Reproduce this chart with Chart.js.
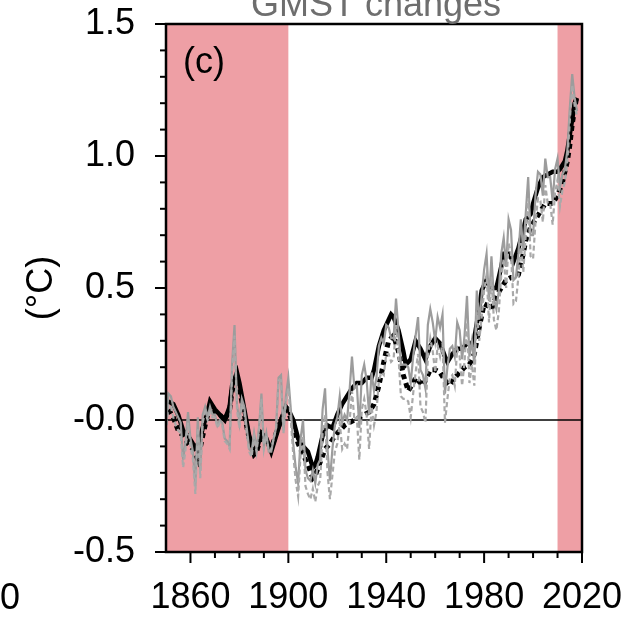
<!DOCTYPE html>
<html>
<head>
<meta charset="utf-8">
<script src="https://cdn.jsdelivr.net/npm/chart.js@4/dist/chart.umd.min.js"></script>
<style>
  html, body { margin: 0; padding: 0; background: #fff; }
  #wrap { width: 630px; height: 619px; position: relative; }
</style>
</head>
<body>
<div id="wrap"><canvas id="gmst" width="630" height="619"></canvas></div>
<script>
// annual values (gray lines), one per year from 1850
const firstYear = 1850
const annualSolid = [
  -0.02, 0.10, 0.09, 0.05, 0.03, 0.01, -0.01, -0.15, -0.08, 0.03,
  -0.07, -0.12, -0.25, 0.01, -0.19, 0.02, 0.05, 0.01, 0.05, 0.02,
  0.02, -0.02, 0.00, -0.01, -0.07, -0.08, -0.10, 0.21, 0.36, 0.06,
  -0.01, 0.08, 0.05, -0.03, -0.11, -0.12, -0.05, -0.11, -0.03, 0.10,
  -0.10, -0.05, -0.12, -0.12, -0.07, -0.03, 0.16, 0.17, -0.04, 0.09,
  0.16, 0.04, -0.09, -0.18, -0.24, -0.07, 0.00, -0.19, -0.22, -0.23,
  -0.19, -0.24, -0.17, -0.15, 0.04, 0.12, -0.11, -0.23, -0.11, -0.02,
  0.01, 0.09, -0.01, 0.02, 0.00, 0.11, 0.24, 0.12, 0.13, -0.03,
  0.17, 0.21, 0.15, 0.02, 0.18, 0.11, 0.16, 0.28, 0.31, 0.29,
  0.36, 0.35, 0.31, 0.31, 0.46, 0.34, 0.21, 0.21, 0.21, 0.20,
  0.14, 0.24, 0.32, 0.39, 0.19, 0.17, 0.12, 0.36, 0.42, 0.37,
  0.30, 0.39, 0.35, 0.40, 0.10, 0.20, 0.27, 0.28, 0.24, 0.37,
  0.34, 0.23, 0.32, 0.47, 0.24, 0.30, 0.21, 0.49, 0.38, 0.47,
  0.57, 0.63, 0.45, 0.62, 0.46, 0.42, 0.49, 0.63, 0.69, 0.58,
  0.76, 0.72, 0.53, 0.54, 0.63, 0.76, 0.64, 0.78, 0.92, 0.70,
  0.70, 0.85, 0.94, 0.93, 0.85, 0.99, 0.92, 0.92, 0.83, 0.95,
  0.99, 0.88, 0.93, 0.95, 1.02, 1.18, 1.31, 1.22, 1.17
]
const annualDashed = [
  -0.05, 0.06, 0.05, 0.01, -0.02, -0.04, -0.05, -0.18, -0.11, -0.01,
  -0.10, -0.15, -0.28, -0.03, -0.22, -0.01, 0.03, 0.00, 0.03, 0.01,
  0.01, -0.03, -0.01, -0.02, -0.08, -0.09, -0.11, 0.18, 0.32, 0.04,
  -0.03, 0.06, 0.03, -0.05, -0.12, -0.14, -0.06, -0.12, -0.04, 0.08,
  -0.11, -0.06, -0.12, -0.11, -0.07, -0.03, 0.15, 0.15, -0.05, 0.07,
  0.12, 0.00, -0.13, -0.23, -0.29, -0.13, -0.06, -0.25, -0.28, -0.30,
  -0.26, -0.31, -0.25, -0.23, -0.05, 0.02, -0.20, -0.30, -0.21, -0.12,
  -0.09, -0.01, -0.11, -0.09, -0.11, -0.01, 0.11, 0.00, 0.01, -0.15,
  0.04, 0.08, 0.02, -0.11, 0.05, -0.02, 0.03, 0.15, 0.18, 0.17,
  0.25, 0.25, 0.22, 0.23, 0.36, 0.24, 0.09, 0.08, 0.08, 0.07,
  0.01, 0.10, 0.18, 0.25, 0.05, 0.03, -0.01, 0.24, 0.31, 0.26,
  0.18, 0.28, 0.24, 0.29, -0.01, 0.08, 0.16, 0.17, 0.13, 0.27,
  0.24, 0.13, 0.22, 0.37, 0.14, 0.21, 0.13, 0.41, 0.30, 0.39,
  0.49, 0.55, 0.37, 0.54, 0.38, 0.34, 0.41, 0.55, 0.61, 0.50,
  0.67, 0.63, 0.44, 0.45, 0.54, 0.67, 0.56, 0.70, 0.84, 0.62,
  0.61, 0.75, 0.84, 0.83, 0.75, 0.89, 0.82, 0.82, 0.74, 0.86,
  0.91, 0.81, 0.87, 0.90, 0.98, 1.13, 1.27, 1.19, 1.15
]

// smoothed series (black lines)
const smoothYears = [
  1851, 1853, 1855, 1857, 1859, 1861, 1863, 1865, 1867, 1868, 1870, 1872, 1874, 1876, 1877, 1879,
  1880, 1882, 1884, 1886, 1887, 1889, 1891, 1893, 1895, 1897, 1899, 1900, 1902, 1904, 1906, 1908,
  1910, 1911, 1912, 1914, 1916, 1918, 1920, 1922, 1924, 1926, 1928, 1930, 1932, 1934, 1935, 1937,
  1939, 1941, 1942, 1943, 1945, 1947, 1948, 1950, 1952, 1954, 1956, 1958, 1960, 1962, 1964, 1965,
  1967, 1969, 1971, 1973, 1975, 1976, 1978, 1979, 1981, 1983, 1985, 1987, 1988, 1990, 1992, 1994,
  1996, 1997, 1999, 2000, 2002, 2004, 2006, 2008, 2010, 2011, 2013, 2014, 2015, 2016, 2017, 2018
]
const smoothSolid = [
  0.07, 0.06, 0.02, -0.04, -0.06, -0.09, -0.11, -0.03, 0.03, 0.07, 0.04, 0.02, 0.00, 0.05, 0.13, 0.18,
  0.14, 0.04, -0.06, -0.12, -0.11, -0.05, -0.07, -0.12, -0.06, 0.00, 0.05, 0.04, 0.00, -0.07, -0.10, -0.12,
  -0.18, -0.17, -0.14, -0.06, -0.02, -0.03, 0.02, 0.06, 0.09, 0.12, 0.14, 0.14, 0.16, 0.16, 0.19, 0.28,
  0.34, 0.38, 0.40, 0.39, 0.34, 0.26, 0.21, 0.23, 0.30, 0.27, 0.23, 0.28, 0.31, 0.29, 0.24, 0.22,
  0.25, 0.27, 0.27, 0.29, 0.29, 0.31, 0.42, 0.49, 0.53, 0.50, 0.50, 0.58, 0.63, 0.63, 0.60, 0.65,
  0.72, 0.76, 0.78, 0.82, 0.88, 0.92, 0.93, 0.94, 0.94, 0.95, 0.98, 1.02, 1.08, 1.14, 1.20, 1.22
]
const dottedYears = [
  1851, 1853, 1855, 1857, 1859, 1861, 1863, 1865, 1867, 1868, 1870, 1872, 1874, 1876, 1877, 1879,
  1880, 1882, 1884, 1886, 1887, 1889, 1891, 1893, 1895, 1897, 1899, 1900, 1902, 1904, 1906, 1908,
  1910, 1911, 1913, 1915, 1917, 1919, 1921, 1923, 1925, 1927, 1929, 1931, 1933, 1935, 1937, 1939,
  1941, 1943, 1945, 1947, 1949, 1951, 1952, 1954, 1955, 1957, 1958, 1960, 1962, 1964, 1966, 1968,
  1970, 1972, 1974, 1976, 1978, 1980, 1982, 1983, 1985, 1987, 1989, 1991, 1993, 1994, 1996, 1997,
  1999, 2001, 2003, 2005, 2007, 2008, 2010, 2012, 2014, 2015, 2016, 2017, 2018
]
const smoothDotted = [
  0.04, 0.01, -0.04, -0.06, -0.09, -0.11, -0.15, -0.06, 0.02, 0.05, 0.03, 0.02, 0.00, 0.04, 0.11, 0.16,
  0.12, 0.02, -0.07, -0.13, -0.12, -0.06, -0.08, -0.11, -0.05, 0.00, 0.04, 0.03, -0.02, -0.09, -0.13, -0.17,
  -0.22, -0.21, -0.16, -0.11, -0.09, -0.06, -0.04, -0.02, -0.01, 0.00, 0.01, 0.02, 0.03, 0.06, 0.13, 0.22,
  0.30, 0.32, 0.26, 0.17, 0.11, 0.14, 0.16, 0.14, 0.13, 0.17, 0.19, 0.19, 0.18, 0.15, 0.13, 0.16,
  0.18, 0.20, 0.21, 0.25, 0.35, 0.44, 0.43, 0.42, 0.47, 0.50, 0.53, 0.54, 0.54, 0.55, 0.63, 0.68,
  0.73, 0.76, 0.79, 0.82, 0.82, 0.82, 0.85, 0.90, 0.98, 1.04, 1.12, 1.18, 1.23
]

// shaded reference periods and tick labels
const shadeStart = [1850, 2010]
const shadeEnd = [1900, 2020]
const xLabelYears = [1860, 1900, 1940, 1980, 2020]
const yLabelValues = [-0.5, 0, 0.5, 1.0, 1.5]
const yLabelText = ['-0.5', '-0.0', '0.5', '1.0', '1.5']

const FONT = "'Liberation Sans', Arial, Helvetica, sans-serif"

function toPoints(xs, ys) {
    return ys.map((v, i) => ({ x: xs[i], y: v }))
}
let annualYears = annualSolid.map((v, i) => firstYear + i)

//no extra room for overhanging tick labels, the layout padding sets the box
function fixPadding(scale) {
    scale.paddingLeft = 0
    scale.paddingRight = 0
    scale.paddingTop = 0
    scale.paddingBottom = 0
}

//draws the pink bands, zero line, frame, ticks and loose text
const decor = {
    id: 'decor',
    beforeDatasetsDraw(chart) {
        let ctx = chart.ctx
        let a = chart.chartArea
        let xs = chart.scales.x
        let ys = chart.scales.y
        ctx.save()
        ctx.fillStyle = '#ee9fa5'
        for (let i = 0; i < shadeStart.length; i++) {
            let x0 = xs.getPixelForValue(shadeStart[i])
            let x1 = xs.getPixelForValue(shadeEnd[i])
            ctx.fillRect(x0, a.top, x1 - x0, a.bottom - a.top)
        }
        let y0 = ys.getPixelForValue(0)
        ctx.strokeStyle = '#000'
        ctx.lineWidth = 1.5
        ctx.beginPath()
        ctx.moveTo(a.left, y0)
        ctx.lineTo(a.right, y0)
        ctx.stroke()
        ctx.restore()
    },
    afterDraw(chart) {
        let ctx = chart.ctx
        let a = chart.chartArea
        let xs = chart.scales.x
        let ys = chart.scales.y
        ctx.save()
        ctx.strokeStyle = '#000'
        ctx.lineWidth = 2.5
        ctx.strokeRect(a.left, a.top, a.right - a.left, a.bottom - a.top)

        // y ticks, outward
        ctx.lineWidth = 2
        ys.ticks.forEach((t) => {
            let major = yLabelValues.some((v) => Math.abs(v - t.value) < 1e-6)
            let py = ys.getPixelForValue(t.value)
            ctx.beginPath()
            ctx.moveTo(a.left, py)
            ctx.lineTo(a.left - (major ? 11 : 6), py)
            ctx.stroke()
        })
        // x ticks, outward
        xs.ticks.forEach((t) => {
            if (t.value <= xs.min) return
            let major = xLabelYears.includes(t.value)
            let px = xs.getPixelForValue(t.value)
            ctx.beginPath()
            ctx.moveTo(px, a.bottom)
            ctx.lineTo(px, a.bottom + (major ? 11 : 6))
            ctx.stroke()
        })

        // title, cut at the top edge
        ctx.fillStyle = '#6e6e6e'
        ctx.font = '36px ' + FONT
        ctx.textAlign = 'center'
        ctx.textBaseline = 'alphabetic'
        ctx.fillText('GMST changes', 376, 16)

        ctx.fillStyle = '#000'
        ctx.textAlign = 'left'
        ctx.fillText('(c)', 183, 73)

        // last digit of the neighbouring panel's axis
        ctx.textAlign = 'center'
        ctx.textBaseline = 'middle'
        ctx.fillText('0', 10, 599)

        ctx.translate(42, 288)
        ctx.rotate(-Math.PI / 2)
        ctx.fillText('(\u00B0C)', 0, 0)
        ctx.restore()
    }
}

let ctx = document.getElementById('gmst')

let chart = new Chart(ctx, {
    type: 'line',
    data: {
        datasets: [
            {
                label: 'annual dashed',
                data: toPoints(annualYears, annualDashed),
                borderColor: '#a9a9a9',
                borderWidth: 2.2,
                borderDash: [5, 3],
                pointRadius: 0,
                tension: 0
            },
            {
                label: 'annual',
                data: toPoints(annualYears, annualSolid),
                borderColor: '#9c9c9c',
                borderWidth: 2.2,
                pointRadius: 0,
                tension: 0
            },
            {
                label: 'smoothed dotted',
                data: toPoints(dottedYears, smoothDotted),
                borderColor: '#000',
                borderWidth: 5,
                borderDash: [5, 4],
                pointRadius: 0,
                tension: 0
            },
            {
                label: 'smoothed',
                data: toPoints(smoothYears, smoothSolid),
                borderColor: '#000',
                borderWidth: 4.5,
                pointRadius: 0,
                tension: 0
            }
        ]
    },
    options: {
        responsive: false,
        animation: false,
        devicePixelRatio: 1,
        layout: { padding: { left: 0, right: 48, top: 24, bottom: 0 } },
        plugins: {
            legend: { display: false },
            tooltip: { enabled: false },
            title: { display: false }
        },
        scales: {
            x: {
                type: 'linear',
                min: 1850,
                max: 2020,
                grid: { display: false, drawTicks: false },
                border: { display: false },
                afterFit: (scale) => { scale.height = 67; fixPadding(scale) },
                ticks: {
                    stepSize: 10,
                    autoSkip: false,
                    maxRotation: 0,
                    padding: 24,
                    color: '#000',
                    font: { family: FONT, size: 36 },
                    callback: (v) => xLabelYears.includes(v) ? String(v) : ''
                }
            },
            y: {
                min: -0.5,
                max: 1.5,
                grid: { display: false, drawTicks: false },
                border: { display: false },
                afterFit: (scale) => { scale.width = 166; fixPadding(scale) },
                ticks: {
                    stepSize: 0.1,
                    autoSkip: false,
                    padding: 31,
                    color: '#000',
                    font: { family: FONT, size: 36 },
                    callback: (v) => {
                        let i = yLabelValues.findIndex((m) => Math.abs(m - v) < 1e-6)
                        return i >= 0 ? yLabelText[i] : ''
                    }
                }
            }
        }
    },
    plugins: [decor]
})
</script>
</body>
</html>
